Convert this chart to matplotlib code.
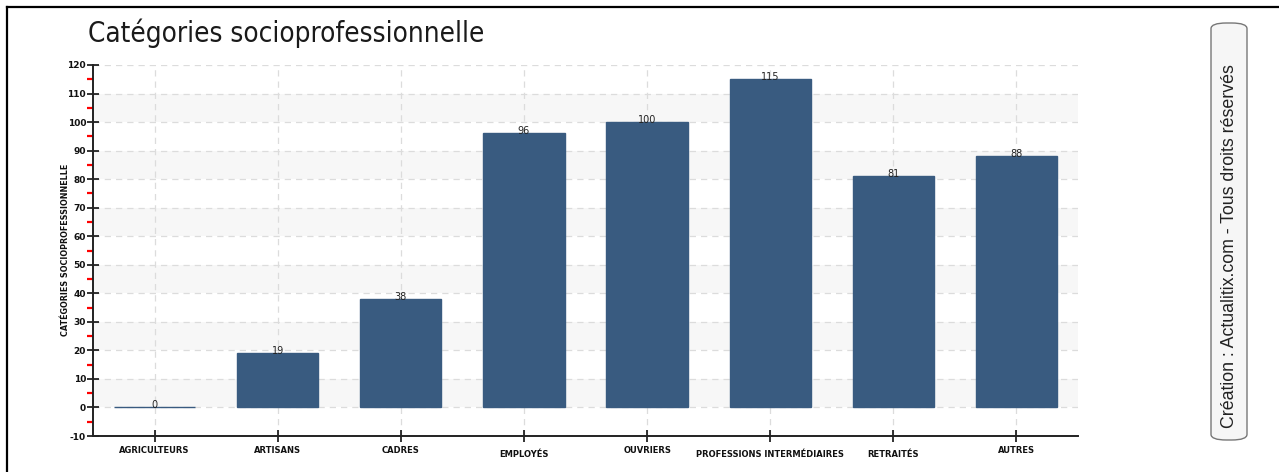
import matplotlib
matplotlib.use("Agg")
import matplotlib.pyplot as plt
from matplotlib.patches import FancyBboxPatch
from matplotlib.ticker import MultipleLocator
from matplotlib.lines import Line2D
from matplotlib.transforms import ScaledTranslation

categories = [
    "AGRICULTEURS", "ARTISANS", "CADRES", "EMPLOYÉS", "OUVRIERS",
    "PROFESSIONS INTERMÉDIAIRES", "RETRAITÉS", "AUTRES",
]
values = [0, 19, 38, 96, 100, 115, 81, 88]
title = "Catégories socioprofessionnelle"
y_label = "CATÉGORIES SOCIOPROFESSIONNELLE"
credit = "Création : Actualitix.com - Tous droits réservés"

plt.rcParams["axes.unicode_minus"] = False

W, H = 1279, 472
fig = plt.figure(figsize=(W / 100, H / 100), dpi=100)
fig.patch.set_facecolor("white")

# outer frame: top and left edges only
fig.add_artist(Line2D([7 / W, 1], [1 - 7 / H, 1 - 7 / H], color="black", lw=1.6,
                      transform=fig.transFigure))
fig.add_artist(Line2D([7 / W, 7 / W], [0, 1 - 7 / H], color="black", lw=1.6,
                      transform=fig.transFigure))

ax = fig.add_axes([93 / W, 1 - 436 / H, (1078 - 93) / W, (436 - 65) / H])
x = list(range(len(categories)))

# alternating bands
for lo in range(0, 110, 20):
    ax.axhspan(lo, lo + 10, color="#f7f7f7", zorder=0, lw=0)

ax.set_axisbelow(True)
ax.grid(True, which="major", color="#dcdcdc", linestyle=(0, (5, 4)), lw=0.9)

ax.bar(x, values, width=0.66, color="#395b80", edgecolor="#395b80", lw=1, zorder=3)
for xi, v in zip(x, values):
    ax.annotate(str(v), (xi, v), xytext=(0, -2), textcoords="offset points",
                ha="center", va="bottom", fontsize=7, color="#222222", zorder=4)

ax.set_xlim(-0.5, len(categories) - 0.5)
ax.set_ylim(-10, 120)
ax.yaxis.set_major_locator(MultipleLocator(10))
ax.yaxis.set_minor_locator(MultipleLocator(5))
ax.set_xticks(x)
ax.set_xticklabels(categories, fontsize=6, fontweight="bold", color="#111111")

for s in ("top", "right"):
    ax.spines[s].set_visible(False)
for s in ("left", "bottom"):
    ax.spines[s].set_color("#222222")
    ax.spines[s].set_linewidth(1.4)

ax.tick_params(axis="y", which="major", direction="inout", length=8, width=1.2,
               labelsize=6.5, pad=1, colors="#111111")
ax.tick_params(axis="y", which="minor", direction="out", length=4, width=1.6,
               color="#ff0000")
ax.tick_params(axis="x", which="major", direction="inout", length=8, width=1.2,
               pad=3, colors="#111111")
for lab in ax.get_yticklabels():
    lab.set_fontweight("bold")
# labels with accented capitals sit a little lower, as in the original
for lab in ax.get_xticklabels():
    if "É" in lab.get_text():
        lab.set_transform(lab.get_transform() + ScaledTranslation(0, -4 / 100, fig.dpi_scale_trans))

fig.text(65 / W, 1 - 250 / H, y_label, rotation=90, ha="center", va="center",
         fontsize=5.8, fontweight="bold", color="#111111")

fig.text(88 / W, 1 - 33 / H, title, ha="left", va="center", fontsize=20,
         family="DejaVu Sans", stretch="condensed", color="#1a1a1a")

box = FancyBboxPatch((1211 / W, 1 - 440 / H), 36 / W, 417 / H,
                     boxstyle="round,pad=0,rounding_size=0.012",
                     transform=fig.transFigure, facecolor="#f6f6f6",
                     edgecolor="#777777", lw=1)
fig.add_artist(box)
fig.text(1229 / W, 1 - 246 / H, credit, rotation=90, ha="center", va="center",
         fontsize=12.8, family="Liberation Sans", color="#222222")

fig.savefig("out.png", dpi=100)
